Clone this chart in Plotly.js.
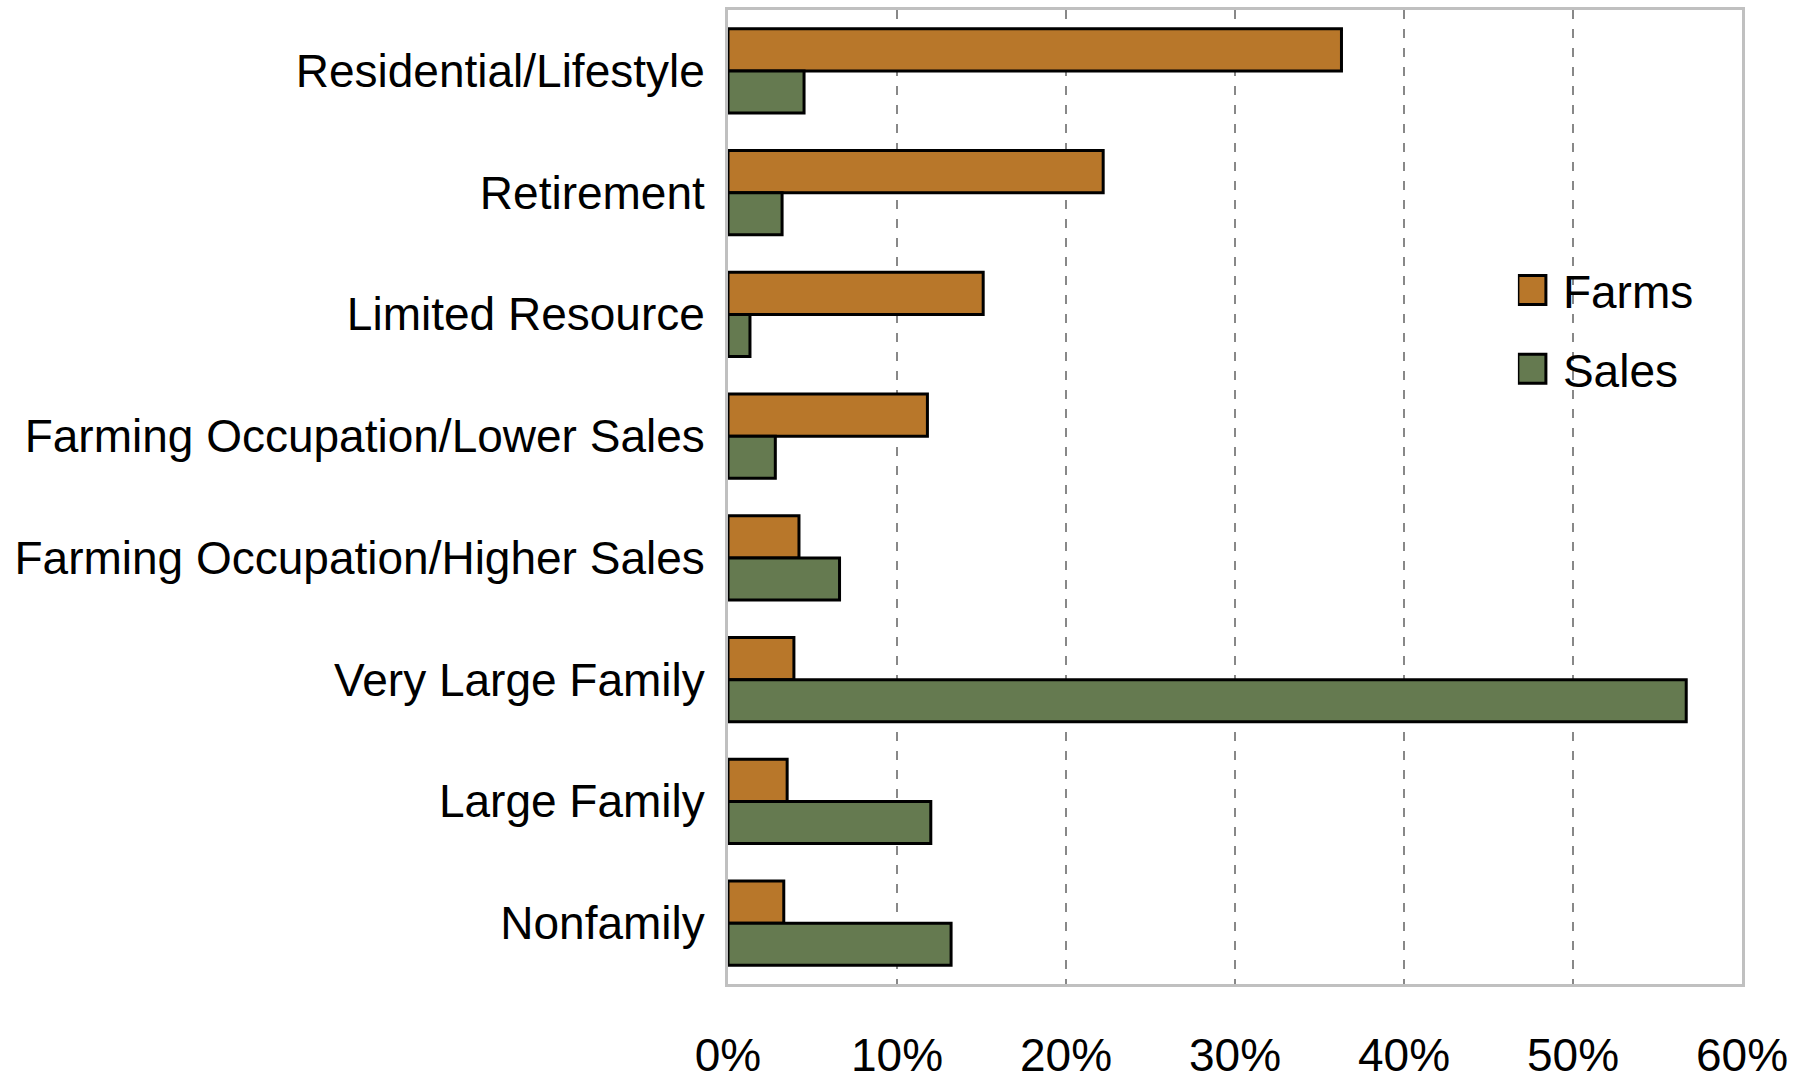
<!DOCTYPE html>
<html>
<head>
<meta charset="utf-8">
<script src="https://cdn.plot.ly/plotly-3.0.1.min.js"></script>
<style>
html,body{margin:0;padding:0;background:#fff;}
#chart{width:1801px;height:1083px;}
</style>
</head>
<body>
<div id="chart"></div>
<script>
// Data
var categories = [
  "Residential/Lifestyle",
  "Retirement",
  "Limited Resource",
  "Farming Occupation/Lower Sales",
  "Farming Occupation/Higher Sales",
  "Very Large Family",
  "Large Family",
  "Nonfamily"
];
var farms = [0.363, 0.222, 0.151, 0.118, 0.042, 0.039, 0.035, 0.033];
var sales = [0.045, 0.032, 0.013, 0.028, 0.066, 0.567, 0.120, 0.132];
var tickVals = [0, 0.1, 0.2, 0.3, 0.4, 0.5, 0.6];
var tickText = ["0%", "10%", "20%", "30%", "40%", "50%", "60%"];

var FONT = "'Liberation Sans', Arial, sans-serif";
var FS = 46;

var traces = [
  {
    type: "bar", orientation: "h", name: "Farms",
    y: categories, x: farms,
    legendgroup: "a",
    marker: {color: "#B8772A", line: {color: "#000", width: 3}},
    hoverinfo: "x+y"
  },
  {
    type: "bar", orientation: "h", name: "Sales",
    y: categories, x: sales,
    legendgroup: "b",
    marker: {color: "#657A50", line: {color: "#000", width: 3}},
    hoverinfo: "x+y"
  }
];

var layout = {
  width: 1801, height: 1083,
  paper_bgcolor: "#fff", plot_bgcolor: "#fff",
  margin: {l: 728, r: 59, t: 10, b: 99, pad: 0},
  barmode: "group", bargap: 0.31, bargroupgap: 0,
  font: {family: FONT, size: FS, color: "#000"},
  xaxis: {
    range: [0, 0.6], tickvals: tickVals, ticktext: tickText,
    showgrid: true, gridcolor: "#888", gridwidth: 2.5, griddash: "9px,10px",
    zeroline: false, showline: true, linecolor: "#c0c0c0", linewidth: 3, mirror: true,
    ticks: "", ticklabelstandoff: 29,
    tickfont: {family: FONT, size: FS, color: "#000"}
  },
  yaxis: {
    autorange: "reversed", type: "category",
    showgrid: false, zeroline: false, showline: true, linecolor: "#c0c0c0", linewidth: 3, mirror: true,
    ticks: "", ticklabelstandoff: 11,
    tickfont: {family: FONT, size: FS, color: "#000"}
  },
  legend: {
    x: 0.779, xanchor: "left", y: 0.750, yanchor: "top",
    traceorder: "grouped", tracegroupgap: 16,
    bgcolor: "rgba(0,0,0,0)", borderwidth: 0,
    font: {family: FONT, size: FS, color: "#000"}
  },
  showlegend: true
};

Plotly.newPlot("chart", traces, layout, {displayModeBar: false, staticPlot: true}).then(function(){
  document.querySelectorAll("#chart .legendpoints path").forEach(function(p){
    p.setAttribute("d", "M8,14.5H-20V-14.5H8Z");
  });
  document.querySelectorAll("#chart .legendtext").forEach(function(t){
    t.setAttribute("x", "45");
  });
});
</script>
</body>
</html>
